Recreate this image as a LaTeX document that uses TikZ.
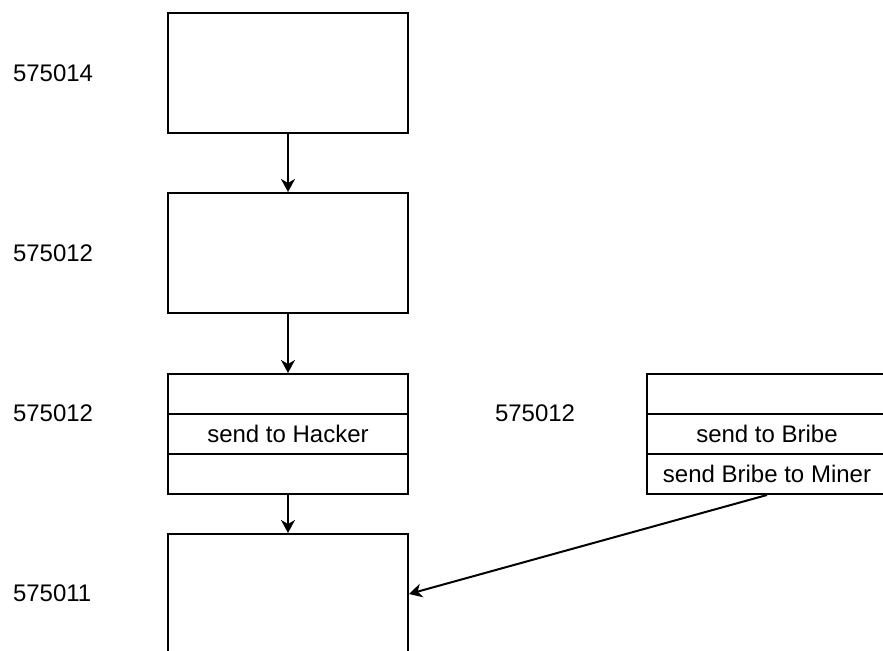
\documentclass[tikz,border=0pt]{standalone}
\usepackage{fontspec}
\setmainfont{Liberation Sans}
\usetikzlibrary{arrows.meta}
\begin{document}
\begin{tikzpicture}[x=0.5pt, y=-0.5pt, line width=1pt, font=\fontsize{12}{14}\selectfont,
				blk/.style = {draw, rectangle, minimum width=120pt, minimum height=60pt, inner sep=0pt},
				row/.style = {draw, rectangle, minimum width=120pt, minimum height=20pt, inner sep=0pt},
				lbl/.style = {anchor=west, inner sep=0pt},
				flow/.style = {-{Stealth[length=6.5pt, width=7pt, inset=2pt]}}]
				
				\useasboundingbox (0,0) rectangle (883,651);
				\clip (0,0) rectangle (883,651);
				
				\node[blk] (b14) at (288,73) {};
				\node[blk] (b12) at (288,253) {};
				\node[row] (h1) at (288,394) {};
				\node[row] (h2) at (288,434) {send to Hacker};
				\node[row] (h3) at (288,474) {};
				\node[blk] (b11) at (288,594) {};
				
				\node[row] (r1) at (767,394) {};
				\node[row] (r2) at (767,434) {send to Bribe};
				\node[row] (r3) at (767,474) {send Bribe to Miner};
				
				\draw[flow] (b14) to (b12);
				\draw[flow] (b12) to (h1);
				\draw[flow] (h3) to (b11);
				\draw[flow] (r3.south) to (b11.east);
				
				\node[lbl] (t1) at (12,73) {575014};
				\node[lbl] (t2) at (12,253) {575012};
				\node[lbl] (t3) at (12,413) {575012};
				\node[lbl] (t4) at (494,413) {575012};
				\node[lbl] (t5) at (12,593) {575011};
				
			\end{tikzpicture}
\end{document}
